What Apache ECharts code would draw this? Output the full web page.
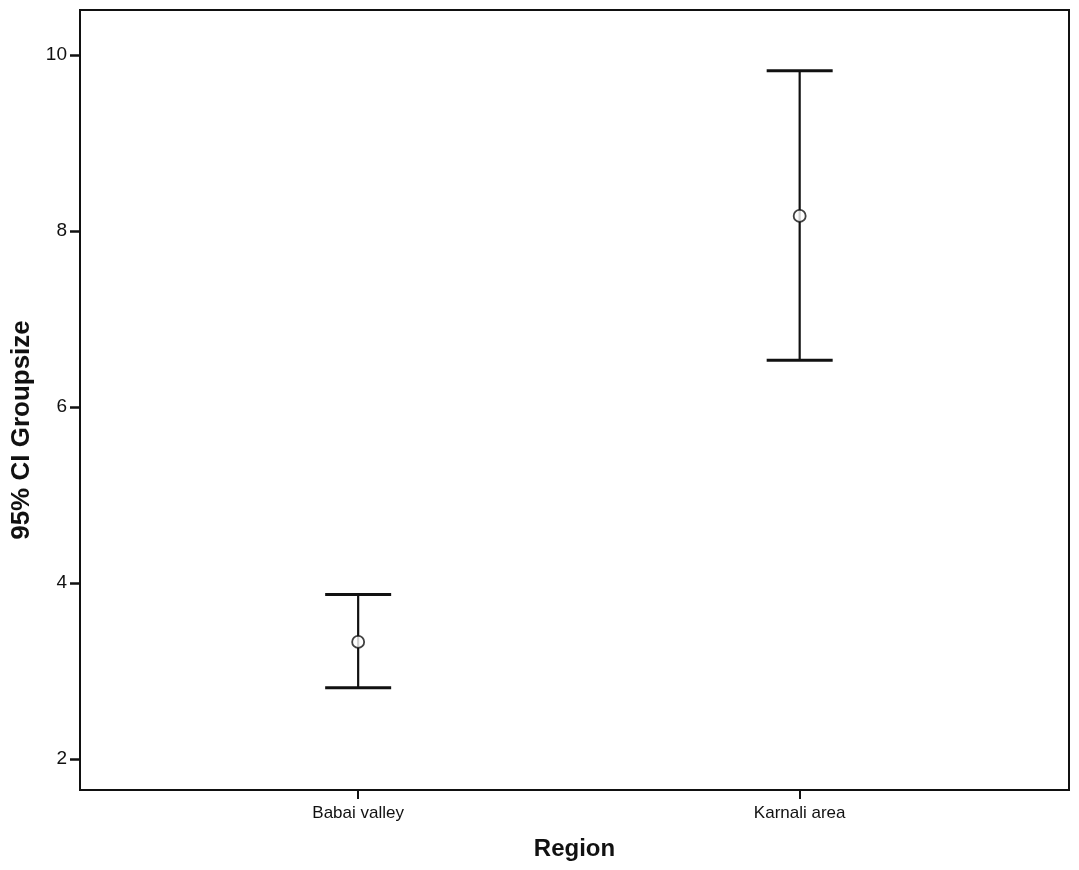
<!DOCTYPE html>
<html lang="en">
<head>
    <meta charset="UTF-8">
    <title>95% CI Groupsize by Region</title>
    <script src="https://cdn.jsdelivr.net/npm/echarts@6/dist/echarts.min.js"></script>
</head>
<body style="margin:0; background:#fff">
    <div id="container" style="width: 1079px; height: 870px"></div>
    <script>
        // data
        var regions = ['Babai valley', 'Karnali area'];
        var means = [3.33, 8.17];
        var lower = [2.81, 6.53];
        var upper = [3.87, 9.82];
        var yTicks = [2, 4, 6, 8, 10];

        var barData = regions.map(function (r, i) { return [i, lower[i], upper[i]]; });
        var meanData = regions.map(function (r, i) { return [i, means[i]]; });

        var myChart = echarts.init(document.getElementById('container'));
        var font = 'Liberation Sans, Arial, sans-serif';

        myChart.setOption({
            backgroundColor: '#fff',
            animation: false,
            grid: {
                left: 80, right: 10, top: 10, bottom: 80,
                outerBoundsMode: 'none',
                show: true, borderColor: '#111', borderWidth: 2
            },
            xAxis: {
                type: 'value',
                min: -0.63,
                max: 1.61,
                name: 'Region',
                nameLocation: 'middle',
                nameGap: 47,
                nameTextStyle: { fontFamily: font, fontSize: 24, fontWeight: 'bold', color: '#111' },
                splitLine: { show: false },
                axisLine: { onZero: false, lineStyle: { color: '#111', width: 2 } },
                axisTick: { customValues: [0, 1], length: 9, lineStyle: { color: '#111', width: 2 } },
                axisLabel: {
                    customValues: [0, 1],
                    margin: 15,
                    fontFamily: font, fontSize: 17, color: '#111',
                    formatter: function (v) { return regions[Math.round(v)]; }
                }
            },
            yAxis: {
                type: 'value',
                min: 1.648,
                max: 10.51,
                name: '95% CI Groupsize',
                nameLocation: 'middle',
                nameGap: 45,
                nameTextStyle: {
                    fontFamily: font, fontSize: 26, fontWeight: 'bold', color: '#111',
                    padding: [0, 60, 0, 0]
                },
                splitLine: { show: false },
                axisLine: { onZero: false, lineStyle: { color: '#111', width: 2 } },
                axisTick: { customValues: yTicks, length: 10, lineStyle: { color: '#111', width: 2.5 } },
                axisLabel: {
                    customValues: yTicks,
                    margin: 13,
                    fontFamily: font, fontSize: 19, color: '#111'
                }
            },
            series: [{
                type: 'custom',
                data: barData,
                renderItem: function (params, api) {
                    var lo = api.coord([api.value(0), api.value(1)]);
                    var hi = api.coord([api.value(0), api.value(2)]);
                    var hw = 33;
                    var style = { stroke: '#111', lineWidth: 3 };
                    return {
                        type: 'group',
                        children: [
                            { type: 'line', shape: { x1: hi[0], y1: hi[1], x2: lo[0], y2: lo[1] }, style: { stroke: '#111', lineWidth: 2.2 } },
                            { type: 'line', shape: { x1: hi[0] - hw, y1: hi[1], x2: hi[0] + hw, y2: hi[1] }, style: style },
                            { type: 'line', shape: { x1: lo[0] - hw, y1: lo[1], x2: lo[0] + hw, y2: lo[1] }, style: style }
                        ]
                    };
                }
            }, {
                type: 'scatter',
                data: meanData,
                symbol: 'circle',
                symbolSize: 12,
                itemStyle: { color: '#fff', borderColor: '#111', borderWidth: 1.8 },
                z: 5
            }]
        });
    </script>
</body>
</html>
